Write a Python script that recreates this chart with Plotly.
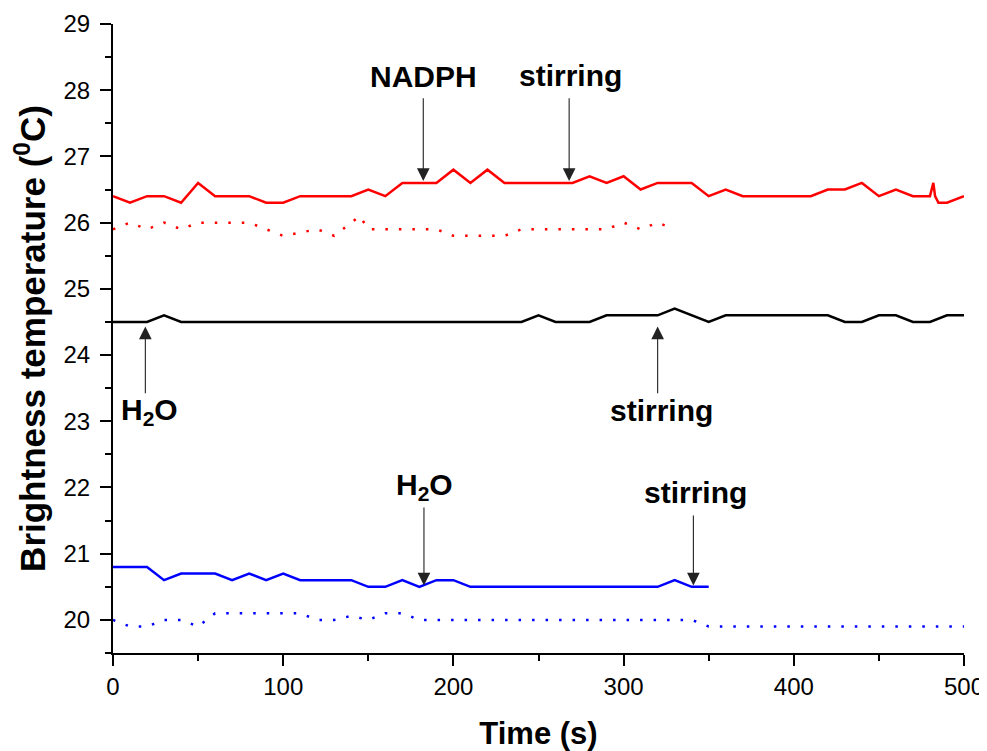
import plotly.graph_objects as go

# ---------------- data ----------------
red_t = [0, 10, 20, 30, 40, 50, 60, 70, 80, 90, 100, 110, 120, 130, 140, 150, 160, 170, 180, 190,
         200, 210, 220, 230, 240, 250, 260, 270, 280, 290, 300, 310, 320, 330, 340, 350, 360, 370,
         380, 390, 400, 410, 420, 430, 440, 450, 460, 470, 480, 482, 483, 485, 490, 500]
red_v = [26.4, 26.3, 26.4, 26.4, 26.3, 26.6, 26.4, 26.4, 26.4, 26.3, 26.3, 26.4, 26.4, 26.4, 26.4,
         26.5, 26.4, 26.6, 26.6, 26.6, 26.8, 26.6, 26.8, 26.6, 26.6, 26.6, 26.6, 26.6, 26.7, 26.6,
         26.7, 26.5, 26.6, 26.6, 26.6, 26.4, 26.5, 26.4, 26.4, 26.4, 26.4, 26.4, 26.5, 26.5, 26.6,
         26.4, 26.5, 26.4, 26.4, 26.6, 26.4, 26.3, 26.3, 26.4]

red_dot_t = [0, 10, 20, 30, 40, 50, 60, 70, 80, 90, 100, 110, 120, 130, 140, 145, 150, 160, 170,
             180, 190, 200, 210, 220, 230, 240, 250, 260, 270, 280, 290, 300, 310, 320, 325]
red_dot_v = [25.9, 26.0, 25.9, 26.0, 25.9, 26.0, 26.0, 26.0, 26.0, 25.9, 25.8, 25.85, 25.9, 25.8,
             26.0, 26.1, 25.9, 25.9, 25.9, 25.9, 25.9, 25.8, 25.8, 25.8, 25.8, 25.9, 25.9, 25.9,
             25.9, 25.9, 25.9, 26.0, 25.9, 26.0, 25.95]

black_t = [0, 10, 20, 30, 40, 50, 100, 150, 200, 240, 250, 260, 270, 280, 290, 300, 310, 320, 330,
           340, 350, 360, 370, 380, 390, 400, 410, 420, 430, 440, 450, 460, 470, 480, 490, 500]
black_v = [24.5, 24.5, 24.5, 24.6, 24.5, 24.5, 24.5, 24.5, 24.5, 24.5, 24.6, 24.5, 24.5, 24.5,
           24.6, 24.6, 24.6, 24.6, 24.7, 24.6, 24.5, 24.6, 24.6, 24.6, 24.6, 24.6, 24.6, 24.6,
           24.5, 24.5, 24.6, 24.6, 24.5, 24.5, 24.6, 24.6]

blue_t = [0, 10, 20, 30, 40, 50, 60, 70, 80, 90, 100, 110, 120, 130, 140, 150, 160, 170, 180, 190,
          200, 210, 220, 230, 240, 250, 260, 270, 280, 290, 300, 310, 320, 330, 340, 350]
blue_v = [20.8, 20.8, 20.8, 20.6, 20.7, 20.7, 20.7, 20.6, 20.7, 20.6, 20.7, 20.6, 20.6, 20.6, 20.6,
          20.5, 20.5, 20.6, 20.5, 20.6, 20.6, 20.5, 20.5, 20.5, 20.5, 20.5, 20.5, 20.5, 20.5, 20.5,
          20.5, 20.5, 20.5, 20.6, 20.5, 20.5]

blue_dot_t = [0, 10, 20, 30, 40, 50, 60, 70, 80, 90, 100, 110, 120, 130, 140, 150, 160, 170, 180,
              190, 200, 250, 300, 340, 350, 400, 450, 500]
blue_dot_v = [20.0, 19.9, 19.9, 20.0, 20.0, 19.9, 20.1, 20.1, 20.1, 20.1, 20.1, 20.1, 20.0, 20.0,
              20.06, 20.0, 20.1, 20.1, 20.0, 20.0, 20.0, 20.0, 20.0, 20.0, 19.9, 19.9, 19.9, 19.9]

# annotation labels and arrows
ann_text = ["NADPH", "stirring", "H<sub>2</sub>O", "stirring", "H<sub>2</sub>O", "stirring"]
ann_tx = [182.7, 269, 21.7, 322, 183.3, 342]
ann_ty = [28.21, 28.22, 23.15, 23.17, 22.02, 21.92]
arr_x = [182.3, 268, 19, 320, 182.7, 341]
arr_tail = [27.9, 27.9, 23.4, 23.4, 21.72, 21.6]
arr_tip = [26.63, 26.63, 24.43, 24.43, 20.52, 20.52]

FONT = "Liberation Sans, Arial, sans-serif"

fig = go.Figure()
fig.add_trace(go.Scatter(x=red_t, y=red_v, mode="lines", line=dict(color="#ff0000", width=2.5)))
fig.add_trace(go.Scatter(x=red_dot_t, y=red_dot_v, mode="lines",
                         line=dict(color="#ff0000", width=2.5, dash="2.5px,11px")))
fig.add_trace(go.Scatter(x=black_t, y=black_v, mode="lines", line=dict(color="#000000", width=2.5)))
fig.add_trace(go.Scatter(x=blue_t, y=blue_v, mode="lines", line=dict(color="#0000ff", width=2.5)))
fig.add_trace(go.Scatter(x=blue_dot_t, y=blue_dot_v, mode="lines",
                         line=dict(color="#0000ff", width=2.5, dash="2.5px,11px")))

for txt, tx, ty in zip(ann_text, ann_tx, ann_ty):
    fig.add_annotation(x=tx, y=ty, xref="x", yref="y", text="<b>" + txt + "</b>",
                       showarrow=False, font=dict(family=FONT, size=30, color="black"))
for ax_, tail, tip in zip(arr_x, arr_tail, arr_tip):
    fig.add_annotation(x=ax_, y=tip, xref="x", yref="y", ax=ax_, ay=tail, axref="x", ayref="y",
                       text="", showarrow=True, arrowhead=2, arrowsize=2.3, arrowwidth=1.1,
                       arrowcolor="#222222", standoff=0, startstandoff=0)

# page body has an 8px margin: shrink the figure so the plot area lands in place
fig.update_layout(
    width=979, height=743,
    margin=dict(l=105, r=23, t=16, b=98),
    paper_bgcolor="white", plot_bgcolor="white",
    showlegend=False,
    font=dict(family=FONT, color="black"),
)
fig.update_xaxes(
    range=[0, 500], dtick=100, tick0=0, showgrid=False, zeroline=False,
    showline=True, linecolor="black", linewidth=2,
    ticks="outside", ticklen=11, tickwidth=2, tickcolor="black",
    minor=dict(ticks="outside", ticklen=6, dtick=50, tickwidth=2, tickcolor="black"),
    tickfont=dict(size=24, family=FONT),
    title=dict(text="<b>Time (s)</b>", font=dict(size=31, family=FONT), standoff=29),
    automargin=False,
)
fig.update_yaxes(
    range=[19.5, 29], dtick=1, tick0=20, showgrid=False, zeroline=False,
    showline=True, linecolor="black", linewidth=2,
    ticks="outside", ticklen=11, tickwidth=2, tickcolor="black",
    minor=dict(ticks="outside", ticklen=6, dtick=0.5, tickwidth=2, tickcolor="black"),
    tickfont=dict(size=24, family=FONT), ticklabelstandoff=5,
    title=dict(text="<b>Brightness temperature (<sup>0</sup>C)</b>",
               font=dict(size=35, family=FONT), standoff=8),
    automargin=False,
)

fig.write_html("out.html")
